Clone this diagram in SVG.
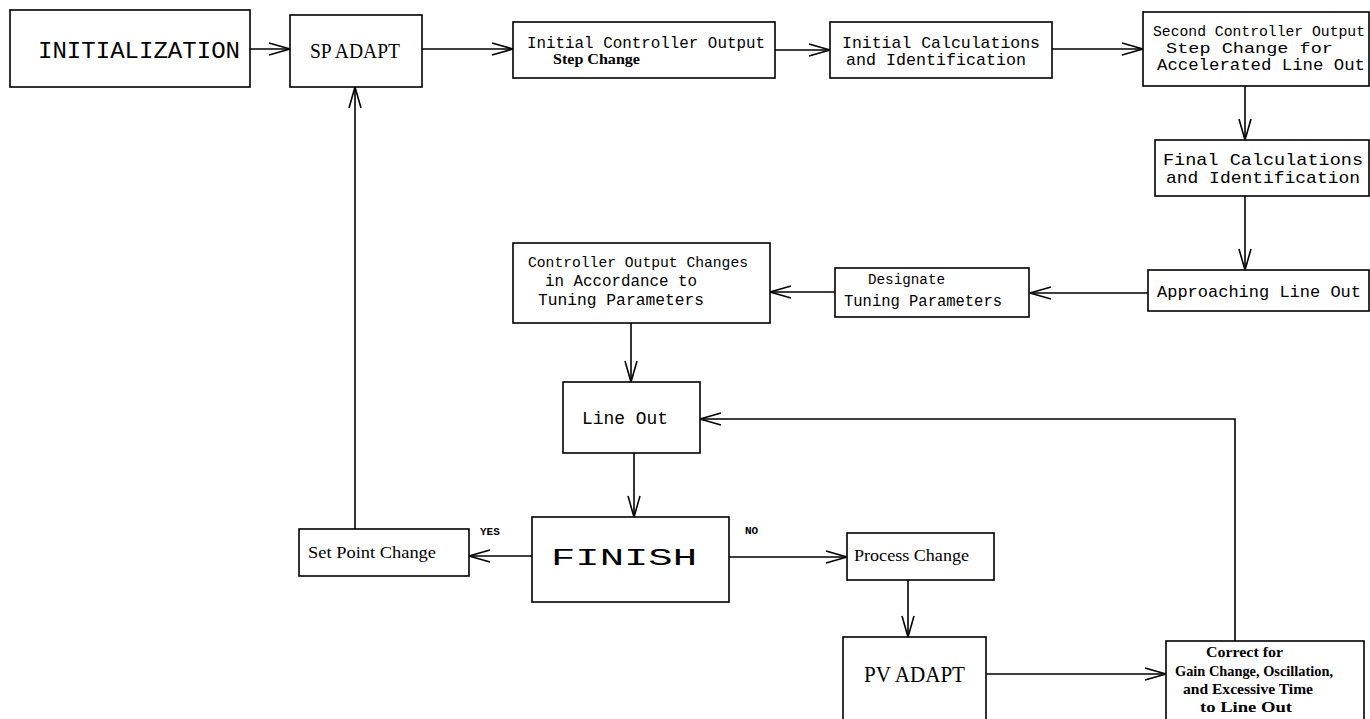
<svg xmlns="http://www.w3.org/2000/svg" width="1370" height="719" viewBox="0 0 1370 719">
<style>
.box{fill:#fff;stroke:#000;stroke-width:1.6}
.c{fill:none;stroke:#000;stroke-width:1.6}
.m{font-family:"Liberation Mono","Courier New",monospace;fill:#000}
.s{font-family:"Liberation Serif","Times New Roman",serif;fill:#000}
</style>
<defs>
<marker id="ah" markerUnits="userSpaceOnUse" markerWidth="24" markerHeight="14" viewBox="0 0 24 14" refX="22" refY="7" orient="auto">
<path d="M1,1 L22,7 L1,13" fill="none" stroke="#000" stroke-width="1.6"/>
</marker>
</defs>
<rect width="1370" height="719" fill="#fff"/>
<g id="connectors">
<line class="c" x1="250" y1="49" x2="290" y2="49" marker-end="url(#ah)"/>
<line class="c" x1="422" y1="49" x2="513" y2="49" marker-end="url(#ah)"/>
<line class="c" x1="775" y1="50" x2="830" y2="50" marker-end="url(#ah)"/>
<line class="c" x1="1052" y1="49" x2="1143" y2="49" marker-end="url(#ah)"/>
<line class="c" x1="1245" y1="86" x2="1245" y2="140" marker-end="url(#ah)"/>
<line class="c" x1="1245" y1="196" x2="1245" y2="270" marker-end="url(#ah)"/>
<line class="c" x1="1148" y1="293" x2="1030" y2="293" marker-end="url(#ah)"/>
<line class="c" x1="835" y1="292" x2="770" y2="292" marker-end="url(#ah)"/>
<line class="c" x1="631" y1="323" x2="631" y2="382" marker-end="url(#ah)"/>
<line class="c" x1="634" y1="453" x2="634" y2="517" marker-end="url(#ah)"/>
<line class="c" x1="532" y1="556" x2="469" y2="556" marker-end="url(#ah)"/>
<line class="c" x1="729" y1="557" x2="847" y2="557" marker-end="url(#ah)"/>
<line class="c" x1="908" y1="580" x2="908" y2="637" marker-end="url(#ah)"/>
<line class="c" x1="986" y1="674" x2="1166" y2="674" marker-end="url(#ah)"/>
<polyline class="c" points="1235,641 1235,419 700,419" marker-end="url(#ah)"/>
<line class="c" x1="355" y1="529" x2="355" y2="87" marker-end="url(#ah)"/>
<text class="m" x="480" y="535" font-size="11" font-weight="bold">YES</text>
<text class="m" x="745" y="534" font-size="11" font-weight="bold">NO</text>
</g>
<g id="n-init">
<rect class="box" x="10" y="10" width="240" height="77"/>
<text class="m" x="38" y="58" font-size="24" textLength="202" lengthAdjust="spacingAndGlyphs">INITIALIZATION</text>
</g>
<g id="n-spadapt">
<rect class="box" x="290" y="15" width="132" height="72"/>
<text class="s" x="310" y="58" font-size="21" textLength="90" lengthAdjust="spacingAndGlyphs">SP ADAPT</text>
</g>
<g id="n-initctrl">
<rect class="box" x="513" y="22" width="262" height="56"/>
<text class="m" x="527" y="48" font-size="16" textLength="238" lengthAdjust="spacingAndGlyphs">Initial Controller Output</text>
<text class="s" x="553" y="64" font-size="14" font-weight="bold" textLength="87" lengthAdjust="spacingAndGlyphs">Step Change</text>
</g>
<g id="n-initcalc">
<rect class="box" x="830" y="22" width="222" height="56"/>
<text class="m" x="842" y="48" font-size="17" textLength="198" lengthAdjust="spacingAndGlyphs">Initial Calculations</text>
<text class="m" x="846" y="65" font-size="17" textLength="180" lengthAdjust="spacingAndGlyphs">and Identification</text>
</g>
<g id="n-second">
<rect class="box" x="1143" y="12" width="226" height="74"/>
<text class="m" x="1153" y="36" font-size="14" textLength="212" lengthAdjust="spacingAndGlyphs">Second Controller Output</text>
<text class="m" x="1166" y="53" font-size="15" textLength="167" lengthAdjust="spacingAndGlyphs">Step Change for</text>
<text class="m" x="1157" y="70" font-size="16" textLength="208" lengthAdjust="spacingAndGlyphs">Accelerated Line Out</text>
</g>
<g id="n-final">
<rect class="box" x="1155" y="140" width="214" height="56"/>
<text class="m" x="1163" y="165" font-size="17" textLength="200" lengthAdjust="spacingAndGlyphs">Final Calculations</text>
<text class="m" x="1166" y="183" font-size="17" textLength="194" lengthAdjust="spacingAndGlyphs">and Identification</text>
</g>
<g id="n-approach">
<rect class="box" x="1148" y="270" width="221" height="41"/>
<text class="m" x="1157" y="297" font-size="17" textLength="204" lengthAdjust="spacingAndGlyphs">Approaching Line Out</text>
</g>
<g id="n-designate">
<rect class="box" x="835" y="268" width="194" height="49"/>
<text class="m" x="868" y="284" font-size="14" textLength="77" lengthAdjust="spacingAndGlyphs">Designate</text>
<text class="m" x="844" y="306" font-size="16" textLength="158" lengthAdjust="spacingAndGlyphs">Tuning Parameters</text>
</g>
<g id="n-ctrlchanges">
<rect class="box" x="513" y="243" width="257" height="80"/>
<text class="m" x="528" y="267" font-size="15" textLength="220" lengthAdjust="spacingAndGlyphs">Controller Output Changes</text>
<text class="m" x="545" y="286" font-size="16" textLength="152" lengthAdjust="spacingAndGlyphs">in Accordance to</text>
<text class="m" x="538" y="305" font-size="16" textLength="166" lengthAdjust="spacingAndGlyphs">Tuning Parameters</text>
</g>
<g id="n-lineout">
<rect class="box" x="563" y="382" width="137" height="71"/>
<text class="m" x="582" y="424" font-size="18" textLength="86" lengthAdjust="spacingAndGlyphs">Line Out</text>
</g>
<g id="n-finish">
<rect class="box" x="532" y="517" width="197" height="85"/>
<text class="m" x="551" y="565" font-size="24" textLength="146" lengthAdjust="spacingAndGlyphs">FINISH</text>
</g>
<g id="n-setpoint">
<rect class="box" x="299" y="529" width="170" height="47"/>
<text class="s" x="308" y="558" font-size="16" textLength="128" lengthAdjust="spacingAndGlyphs">Set Point Change</text>
</g>
<g id="n-process">
<rect class="box" x="847" y="533" width="147" height="47"/>
<text class="s" x="854" y="561" font-size="16" textLength="115" lengthAdjust="spacingAndGlyphs">Process Change</text>
</g>
<g id="n-pvadapt">
<rect class="box" x="843" y="637" width="143" height="90"/>
<text class="s" x="864" y="682" font-size="23" textLength="101" lengthAdjust="spacingAndGlyphs">PV ADAPT</text>
</g>
<g id="n-correct">
<rect class="box" x="1166" y="641" width="198" height="90"/>
<text class="s" x="1206" y="657" font-size="14" font-weight="bold" textLength="77" lengthAdjust="spacingAndGlyphs">Correct for</text>
<text class="s" x="1175" y="676" font-size="14" font-weight="bold" textLength="158" lengthAdjust="spacingAndGlyphs">Gain Change, Oscillation,</text>
<text class="s" x="1183" y="694" font-size="14" font-weight="bold" textLength="130" lengthAdjust="spacingAndGlyphs">and Excessive Time</text>
<text class="s" x="1200" y="712" font-size="14" font-weight="bold" textLength="92" lengthAdjust="spacingAndGlyphs">to Line Out</text>
</g>
</svg>
